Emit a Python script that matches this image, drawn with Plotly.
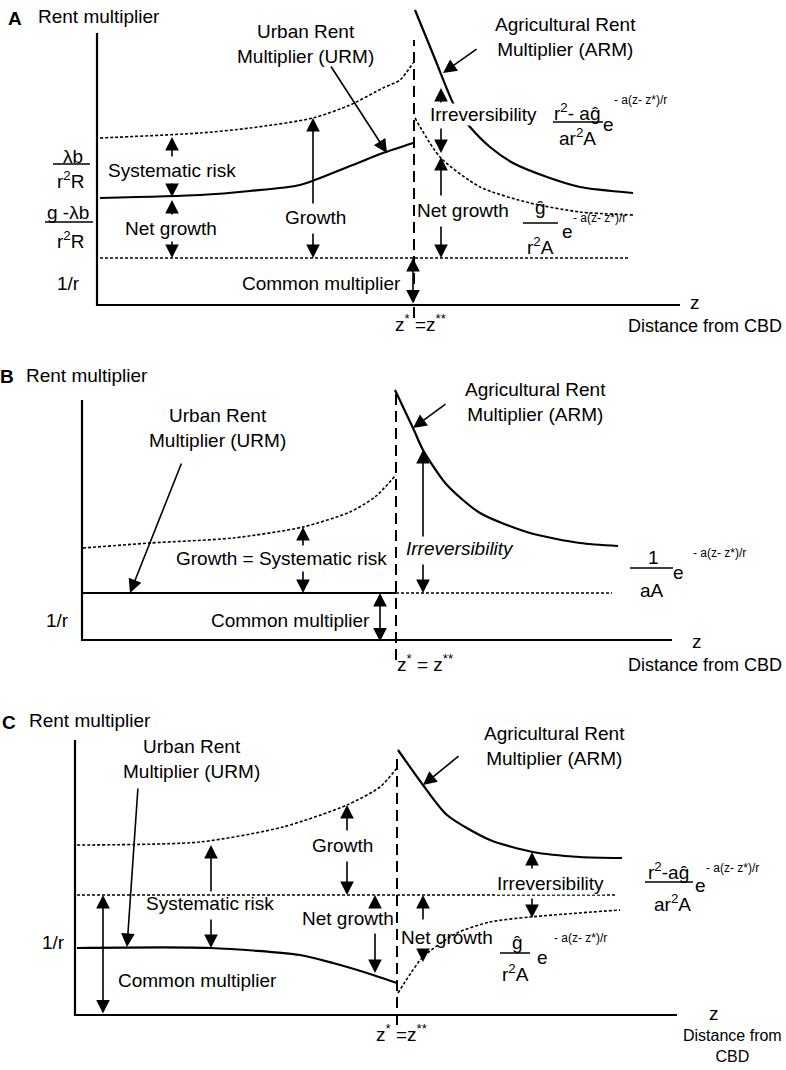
import plotly.graph_objects as go

W, H = 786, 1070
FONT = "Liberation Sans, Arial, Helvetica, sans-serif"

# ---------------- Panel A data (arbitrary units) ----------------
A_z_star = 31.7
A_dash_y = [-1.3, 26.5]
A_axis_x = [0, 0, 58.3]
A_axis_y = [27.2, 0, 0]
A_common_z = [0.3, 53.1]
A_common_y = [4.7, 4.7]
A_urm_z = [0.3, 10.3, 15.3, 20.3, 25.3, 28.6, 31.6]
A_urm_y = [10.7, 11.0, 11.4, 12.0, 13.9, 15.2, 16.2]
A_urm_up_z = [0.3, 10.3, 15.3, 21.6, 25.3, 28.6, 30.3, 31.6]
A_urm_up_y = [16.7, 17.2, 17.7, 18.7, 20.0, 21.7, 22.5, 24.2]
A_arm_z = [31.8, 33.8, 35.8, 37.3, 39.3, 41.6, 45.0, 48.3, 53.6]
A_arm_y = [29.5, 24.6, 19.8, 17.8, 15.8, 14.2, 12.8, 11.8, 11.2]
A_arm_lo_z = [31.8, 34.3, 38.3, 43.3, 48.3, 53.6]
A_arm_lo_y = [18.7, 14.8, 11.8, 10.2, 9.3, 9.0]

# ---------------- Panel B data ----------------
B_z_star = 31.4
B_dash_y = [-2.0, 24.8]
B_axis_x = [0, 0, 59.0]
B_axis_y = [24.0, 0, 0]
B_urm_z = [0, 31.4]
B_urm_y = [4.7, 4.7]
B_urm_up_z = [0.1, 6.8, 15.1, 22.1, 26.8, 29.3, 31.4]
B_urm_up_y = [9.2, 9.7, 10.2, 11.3, 12.8, 14.3, 16.5]
B_arm_z = [31.3, 33.1, 34.1, 36.5, 39.8, 44.8, 49.8, 53.6]
B_arm_y = [25.0, 21.2, 19.0, 15.5, 12.7, 10.7, 9.7, 9.4]
B_lo_z = [31.4, 53.0]
B_lo_y = [4.7, 4.7]

# ---------------- Panel C data ----------------
C_z_star = 32.2
C_dash_y = [-1.0, 26.2]
C_axis_x = [0, 0, 60.2]
C_axis_y = [27.5, 0, 0]
C_urm_up_z = [0.2, 12.5, 20.8, 27.2, 30.5, 32.2]
C_urm_up_y = [17.0, 17.3, 18.8, 21.0, 22.8, 24.7]
C_mid_z = [0.2, 54.2]
C_mid_y = [12.0, 12.0]
C_urm_z = [0.2, 13.5, 22.5, 25.8, 29.2, 32.2]
C_urm_y = [6.7, 6.7, 6.0, 5.2, 4.2, 3.2]
C_arm_z = [32.3, 34.8, 37.2, 41.5, 45.8, 50.5, 54.7]
C_arm_y = [26.5, 23.0, 20.0, 17.5, 16.3, 15.8, 15.7]
C_arm_lo_z = [32.3, 34.8, 38.2, 41.5, 45.5, 54.5]
C_arm_lo_y = [2.2, 5.8, 8.2, 9.3, 9.8, 10.5]

DOT = "3px,2px"
DASH = "11px,6px"

fig = go.Figure()


def curve(z, y, panel, dash=None, width=2.0, smooth=False):
    sfx = "" if panel == 1 else str(panel)
    fig.add_trace(go.Scatter(
        x=z, y=y, mode="lines", xaxis="x" + sfx, yaxis="y" + sfx,
        line=dict(color="black", width=width, dash=dash,
                  shape="spline" if smooth else "linear", smoothing=0.7),
        hoverinfo="skip", showlegend=False))


# Panel A
curve(A_axis_x, A_axis_y, 1, width=2.2)
curve([A_z_star, A_z_star], A_dash_y, 1, dash=DASH, width=2)
curve(A_common_z, A_common_y, 1, dash=DOT, width=1.5)
curve(A_urm_z, A_urm_y, 1, width=2.2, smooth=True)
curve(A_urm_up_z, A_urm_up_y, 1, dash=DOT, width=1.6, smooth=True)
curve(A_arm_z, A_arm_y, 1, width=2.2, smooth=True)
curve(A_arm_lo_z, A_arm_lo_y, 1, dash=DOT, width=1.6, smooth=True)

# Panel B
curve(B_axis_x, B_axis_y, 2, width=2.2)
curve([B_z_star, B_z_star], B_dash_y, 2, dash=DASH, width=2)
curve(B_urm_z, B_urm_y, 2, width=2.2)
curve(B_urm_up_z, B_urm_up_y, 2, dash=DOT, width=1.6, smooth=True)
curve(B_arm_z, B_arm_y, 2, width=2.2, smooth=True)
curve(B_lo_z, B_lo_y, 2, dash=DOT, width=1.5)

# Panel C
curve(C_axis_x, C_axis_y, 3, width=2.2)
curve([C_z_star, C_z_star], C_dash_y, 3, dash=DASH, width=2)
curve(C_urm_up_z, C_urm_up_y, 3, dash=DOT, width=1.6, smooth=True)
curve(C_mid_z, C_mid_y, 3, dash=DOT, width=1.5)
curve(C_urm_z, C_urm_y, 3, width=2.2, smooth=True)
curve(C_arm_z, C_arm_y, 3, width=2.2, smooth=True)
curve(C_arm_lo_z, C_arm_lo_y, 3, dash=DOT, width=1.6, smooth=True)

annotations = []
shapes = []


def P(px, py):
    return px / W, 1 - py / H


def T(s, px, py, size=19, xa="center", ya="middle", bg=None):
    x, y = P(px, py)
    d = dict(text=s, x=x, y=y, xref="paper", yref="paper", showarrow=False,
             font=dict(size=size, family=FONT, color="black"),
             xanchor=xa, yanchor=ya, borderpad=0)
    if bg:
        d["bgcolor"] = bg
    annotations.append(d)


def arrow(hx, hy, tx, ty, double=False):
    x, y = P(hx, hy)
    d = dict(text="", x=x, y=y, xref="paper", yref="paper",
             ax=tx - hx, ay=ty - hy, axref="pixel", ayref="pixel",
             showarrow=True, arrowhead=2, arrowsize=1.7, arrowwidth=1.6,
             arrowcolor="black", standoff=0, startstandoff=0)
    if double:
        d["arrowside"] = "end+start"
        d["startarrowhead"] = 2
        d["startarrowsize"] = 1.7
    annotations.append(d)


def bar(x0, x1, py):
    a, b = P(x0, py)
    c, _ = P(x1, py)
    shapes.append(dict(type="line", xref="paper", yref="paper", x0=a, x1=c, y0=b, y1=b,
                       line=dict(color="black", width=1.5)))


EXP = "- a(z- z*)/r"

# ---------- Panel A text ----------
T("<b>A</b>", 15, 19)
T("Rent multiplier", 37, 17, xa="left")
T("Urban Rent<br>Multiplier (URM)", 305, 44)
arrow(387, 153, 330, 65)
T("Agricultural Rent<br>Multiplier (ARM)", 565, 37)
arrow(443, 73, 478, 48)
T("Irreversibility", 484, 115, bg="white")
arrow(441, 88, 441, 104)
arrow(441, 153, 441, 127)
arrow(441, 157, 441, 197)
arrow(441, 258, 441, 225)
T("Net growth", 416, 210, xa="left")
T("Systematic risk", 172, 170)
arrow(172, 137, 172, 158)
arrow(172, 197, 172, 182)
T("Net growth", 171, 228)
arrow(172, 200, 172, 216)
arrow(172, 258, 172, 240)
T("Growth", 315, 217)
arrow(313, 118, 313, 205)
arrow(313, 258, 313, 232)
T("Common multiplier", 321, 283)
arrow(413, 258, 413, 305, double=True)
T("λb", 73, 157)
bar(53, 90, 164)
T("r<sup>2</sup>R", 70, 180)
T("g -λb", 68, 213)
bar(45, 93, 222)
T("r<sup>2</sup>R", 70, 240)
T("1/r", 68, 283)
T("r<sup>2</sup>- aĝ", 577, 112)
bar(553, 603, 122)
T("ar<sup>2</sup>A", 577, 137)
T("e", 608, 125)
T(EXP, 613, 100, size=12, xa="left")
T("ĝ", 540, 207)
bar(523, 558, 223)
T("r<sup>2</sup>A", 540, 246)
T("e", 567, 232)
T(EXP, 572, 218, size=12, xa="left")
T("z", 695, 302)
T("Distance from CBD", 783, 326, size=18, xa="right")
T("z<sup>*</sup> =z<sup>**</sup>", 420, 323)

# ---------- Panel B text ----------
T("<b>B</b>", 7, 376)
T("Rent multiplier", 25, 375, xa="left")
T("Urban Rent<br>Multiplier (URM)", 217, 428)
arrow(130, 593, 182, 462)
T("Agricultural Rent<br>Multiplier (ARM)", 535, 402)
arrow(413, 428, 447, 403)
T("Growth = Systematic risk", 281, 558)
arrow(303, 527, 303, 547)
arrow(303, 593, 303, 570)
T("<i>Irreversibility</i>", 460, 548)
arrow(423, 450, 423, 538)
arrow(423, 593, 423, 563)
T("Common multiplier", 290, 620)
arrow(380, 593, 380, 643, double=True)
T("1/r", 57, 620)
T("1", 653, 557)
bar(630, 673, 568)
T("aA", 652, 590)
T("e", 678, 572)
T(EXP, 692, 553, size=12, xa="left")
T("z", 697, 641)
T("Distance from CBD", 783, 665, size=18, xa="right")
T("z<sup>*</sup> = z<sup>**</sup>", 425, 663)

# ---------- Panel C text ----------
T("<b>C</b>", 9, 722)
T("Rent multiplier", 28, 720, xa="left")
T("Urban Rent<br>Multiplier (URM)", 191, 759)
arrow(127, 947, 138, 787)
T("Agricultural Rent<br>Multiplier (ARM)", 554, 746)
arrow(423, 785, 460, 755)
T("Growth", 342, 845)
arrow(347, 805, 347, 832)
arrow(347, 895, 347, 860)
T("Systematic risk", 210, 903)
arrow(211, 845, 211, 893)
arrow(211, 948, 211, 918)
arrow(103, 895, 103, 1015, double=True)
T("Common multiplier", 197, 980)
T("1/r", 53, 942)
T("Net growth", 348, 918)
arrow(375, 895, 375, 908)
arrow(375, 973, 375, 932)
T("Net growth", 447, 937)
arrow(423, 895, 423, 921)
arrow(423, 962, 423, 950)
T("Irreversibility", 550, 883, bg="white")
arrow(532, 852, 532, 870)
arrow(532, 918, 532, 897)
T("r<sup>2</sup>-aĝ", 668, 871)
bar(645, 693, 882)
T("ar<sup>2</sup>A", 672, 903)
T("e", 700, 885)
T(EXP, 705, 868, size=12, xa="left")
T("ĝ", 517, 942)
bar(500, 530, 953)
T("r<sup>2</sup>A", 515, 973)
T("e", 542, 957)
T(EXP, 553, 938, size=12, xa="left")
T("z", 714, 1013)
T("Distance from<br>CBD", 732, 1046, size=16)
T("z<sup>*</sup> =z<sup>**</sup>", 402, 1033)


def ax(domain, rng, anchor):
    return dict(domain=domain, range=rng, visible=False, fixedrange=True, anchor=anchor)


fig.update_layout(
    width=W, height=H,
    margin=dict(l=0, r=0, t=0, b=0),
    paper_bgcolor="white", plot_bgcolor="white",
    showlegend=False,
    font=dict(family=FONT, color="black"),
    xaxis=ax([87 / W, 1], [-1.0, 68.9], "y"),
    yaxis=ax([1 - 340 / H, 1], [-3.5, 30.5], "x"),
    xaxis2=ax([72 / W, 1], [-1.0, 70.4], "y2"),
    yaxis2=ax([1 - 680 / H, 1 - 345 / H], [-4.0, 29.5], "x2"),
    xaxis3=ax([65 / W, 1], [-1.0, 71.1], "y3"),
    yaxis3=ax([0, 1 - 685 / H], [-5.5, 33.0], "x3"),
    annotations=annotations,
    shapes=shapes,
)

fig.write_html("out.html",
               config={"displayModeBar": False, "staticPlot": True},
               post_script="document.body.style.margin='0px';document.body.style.overflow='hidden';")
